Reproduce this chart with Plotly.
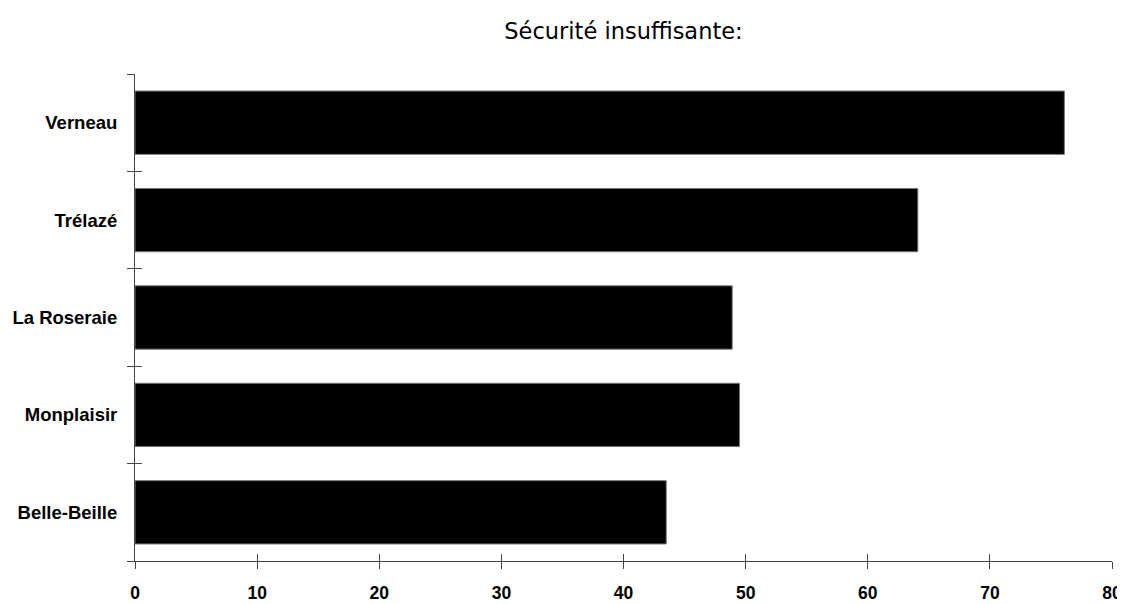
import plotly.graph_objects as go

categories = ["Belle-Beille", "Monplaisir", "La Roseraie", "Trélazé", "Verneau"]
values = [43.5, 49.5, 48.9, 64.1, 76.1]
x_ticks = [0, 10, 20, 30, 40, 50, 60, 70, 80]
title = "Sécurité insuffisante:"

fig = go.Figure()
fig.add_trace(go.Bar(
    y=categories, x=values, orientation="h",
    marker=dict(color="black", line=dict(color="#777777", width=1)),
    width=0.65, showlegend=False, hoverinfo="x+y",
))
# helper invisible trace for the overlaid axes (inner halves of crossing ticks)
fig.add_trace(go.Scatter(x=[x_ticks[0]], y=[0], xaxis="x2", yaxis="y2",
                         mode="markers", marker=dict(opacity=0), showlegend=False,
                         hoverinfo="skip"))

axis_col = "#444444"
fig.update_layout(
    width=1125, height=596,
    paper_bgcolor="white", plot_bgcolor="white",
    margin=dict(l=127, r=21, t=66, b=43, autoexpand=False),
    title=dict(text=title, x=0.5, xref="paper", y=1 - 23 / 596, yref="container",
               xanchor="center", yanchor="middle",
               font=dict(family="DejaVu Sans", size=22.5, color="black")),
    xaxis=dict(range=[0, 80], tickvals=x_ticks, ticks="outside", ticklen=7,
               tickcolor=axis_col, showline=True, linecolor=axis_col, linewidth=1,
               showgrid=False, zeroline=False, automargin=False, ticklabelstandoff=9,
               tickfont=dict(family="Liberation Sans, Arial", size=17.5, color="black", weight="bold")),
    yaxis=dict(type="category", categoryorder="array", categoryarray=categories,
               tickson="boundaries", ticks="outside", ticklen=7, tickcolor=axis_col,
               showline=True, linecolor=axis_col, linewidth=1, showgrid=False,
               zeroline=False, ticklabelstandoff=13, automargin=False,
               tickfont=dict(family="Liberation Sans, Arial", size=18.5, color="black", weight="bold")),
    xaxis2=dict(range=[0, 80], tickvals=x_ticks, ticks="inside", ticklen=7,
                tickcolor=axis_col, showticklabels=False, showline=False,
                showgrid=False, zeroline=False, overlaying="x", anchor="y2", side="bottom"),
    yaxis2=dict(range=[-0.5, 4.5], tickvals=[-0.5, 0.5, 1.5, 2.5, 3.5, 4.5],
                ticks="inside", ticklen=7, tickcolor=axis_col, showticklabels=False,
                showline=False, showgrid=False, zeroline=False, overlaying="y",
                anchor="x2", side="left"),
    bargap=0.35,
)

fig.write_html("out.html", post_script="document.body.style.overflow='hidden';")
